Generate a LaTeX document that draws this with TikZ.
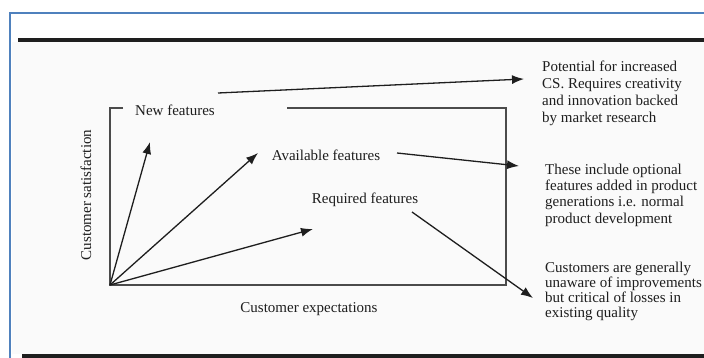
\documentclass[tikz,border=0pt]{standalone}
\usepackage{fontspec}
\setmainfont{Liberation Serif}
\usetikzlibrary{arrows.meta}
\definecolor{ink}{HTML}{1E1E1E}
\definecolor{frameblue}{HTML}{4F81BD}
\definecolor{paper}{HTML}{FAFAFA}
\begin{document}
\begin{tikzpicture}[x=1pt,y=-1pt,
  lbl/.style={font=\fontsize{15}{16}\selectfont, text=ink, inner sep=0pt},
  note/.style={lbl, align=left, anchor=west},
  arr/.style={draw=ink, line width=1.3pt, -{Latex[length=12pt,width=9pt]}},
  axis/.style={draw=ink!80, line width=1.1pt},
  rule/.style={draw=ink, line width=3.5pt},
  frame/.style={draw=frameblue, line width=2pt},
]
\useasboundingbox (0,0) rectangle (704,358);
% background of scanned figure
\fill[paper] (12,42) rectangle (704,354);
% blue frame
\draw[frame] (10,358) -- (10,13) -- (704,13);
% black rules
\draw[rule] (18,40) -- (704,40);
\draw[rule] (22,356) -- (704,356);

% axes box
\coordinate (o) at (110,285);
\coordinate (tl) at (110,108);
\coordinate (tick) at (123,108);
\coordinate (tr1) at (287,108);
\coordinate (tr) at (506,108);
\coordinate (br) at (506,285);
\node[lbl] (nf) at (175,110) {New features};
\draw[axis] (tick) -- (tl) -- (o) -- (br) -- (tr) -- (tr1);

% axis labels
\node[lbl] (xl) at (309,309) {Customer expectations};
\node[lbl, rotate=90] (yl) at (86,195) {Customer satisfaction};

% feature labels
\node[lbl] (af) at (326,155) {Available features};
\node[lbl] (rf) at (365,200) {Required features};

% vectors from origin
\coordinate (vn) at (150,142);
\coordinate (va) at (258,153);
\coordinate (vr) at (313,229);
\draw[arr] (o) -- (vn);
\draw[arr] (o) -- (va);
\draw[arr] (o) -- (vr);

% notes
\node[note, font=\fontsize{15}{17}\selectfont] (n1) at (542,93) {Potential for increased\\CS. Requires creativity\\and innovation backed\\by market research};
\node[note, font=\fontsize{15}{16.3}\selectfont] (n2) at (545,195) {These include optional\\features added in product\\generations i.e. normal\\product development};
\node[note, font=\fontsize{15}{15}\selectfont] (n3) at (545,291) {Customers are generally\\unaware of improvements\\but critical of losses in\\existing quality};

% connectors to notes
\coordinate (s1) at (218,93);
\coordinate (e1) at (524,79);
\coordinate (s2) at (397,153);
\coordinate (e2) at (519,166);
\coordinate (s3) at (412,212);
\coordinate (e3) at (533,298);
\draw[arr] (s1) -- (e1);
\draw[arr] (s2) -- (e2);
\draw[arr] (s3) -- (e3);
\end{tikzpicture}
\end{document}
